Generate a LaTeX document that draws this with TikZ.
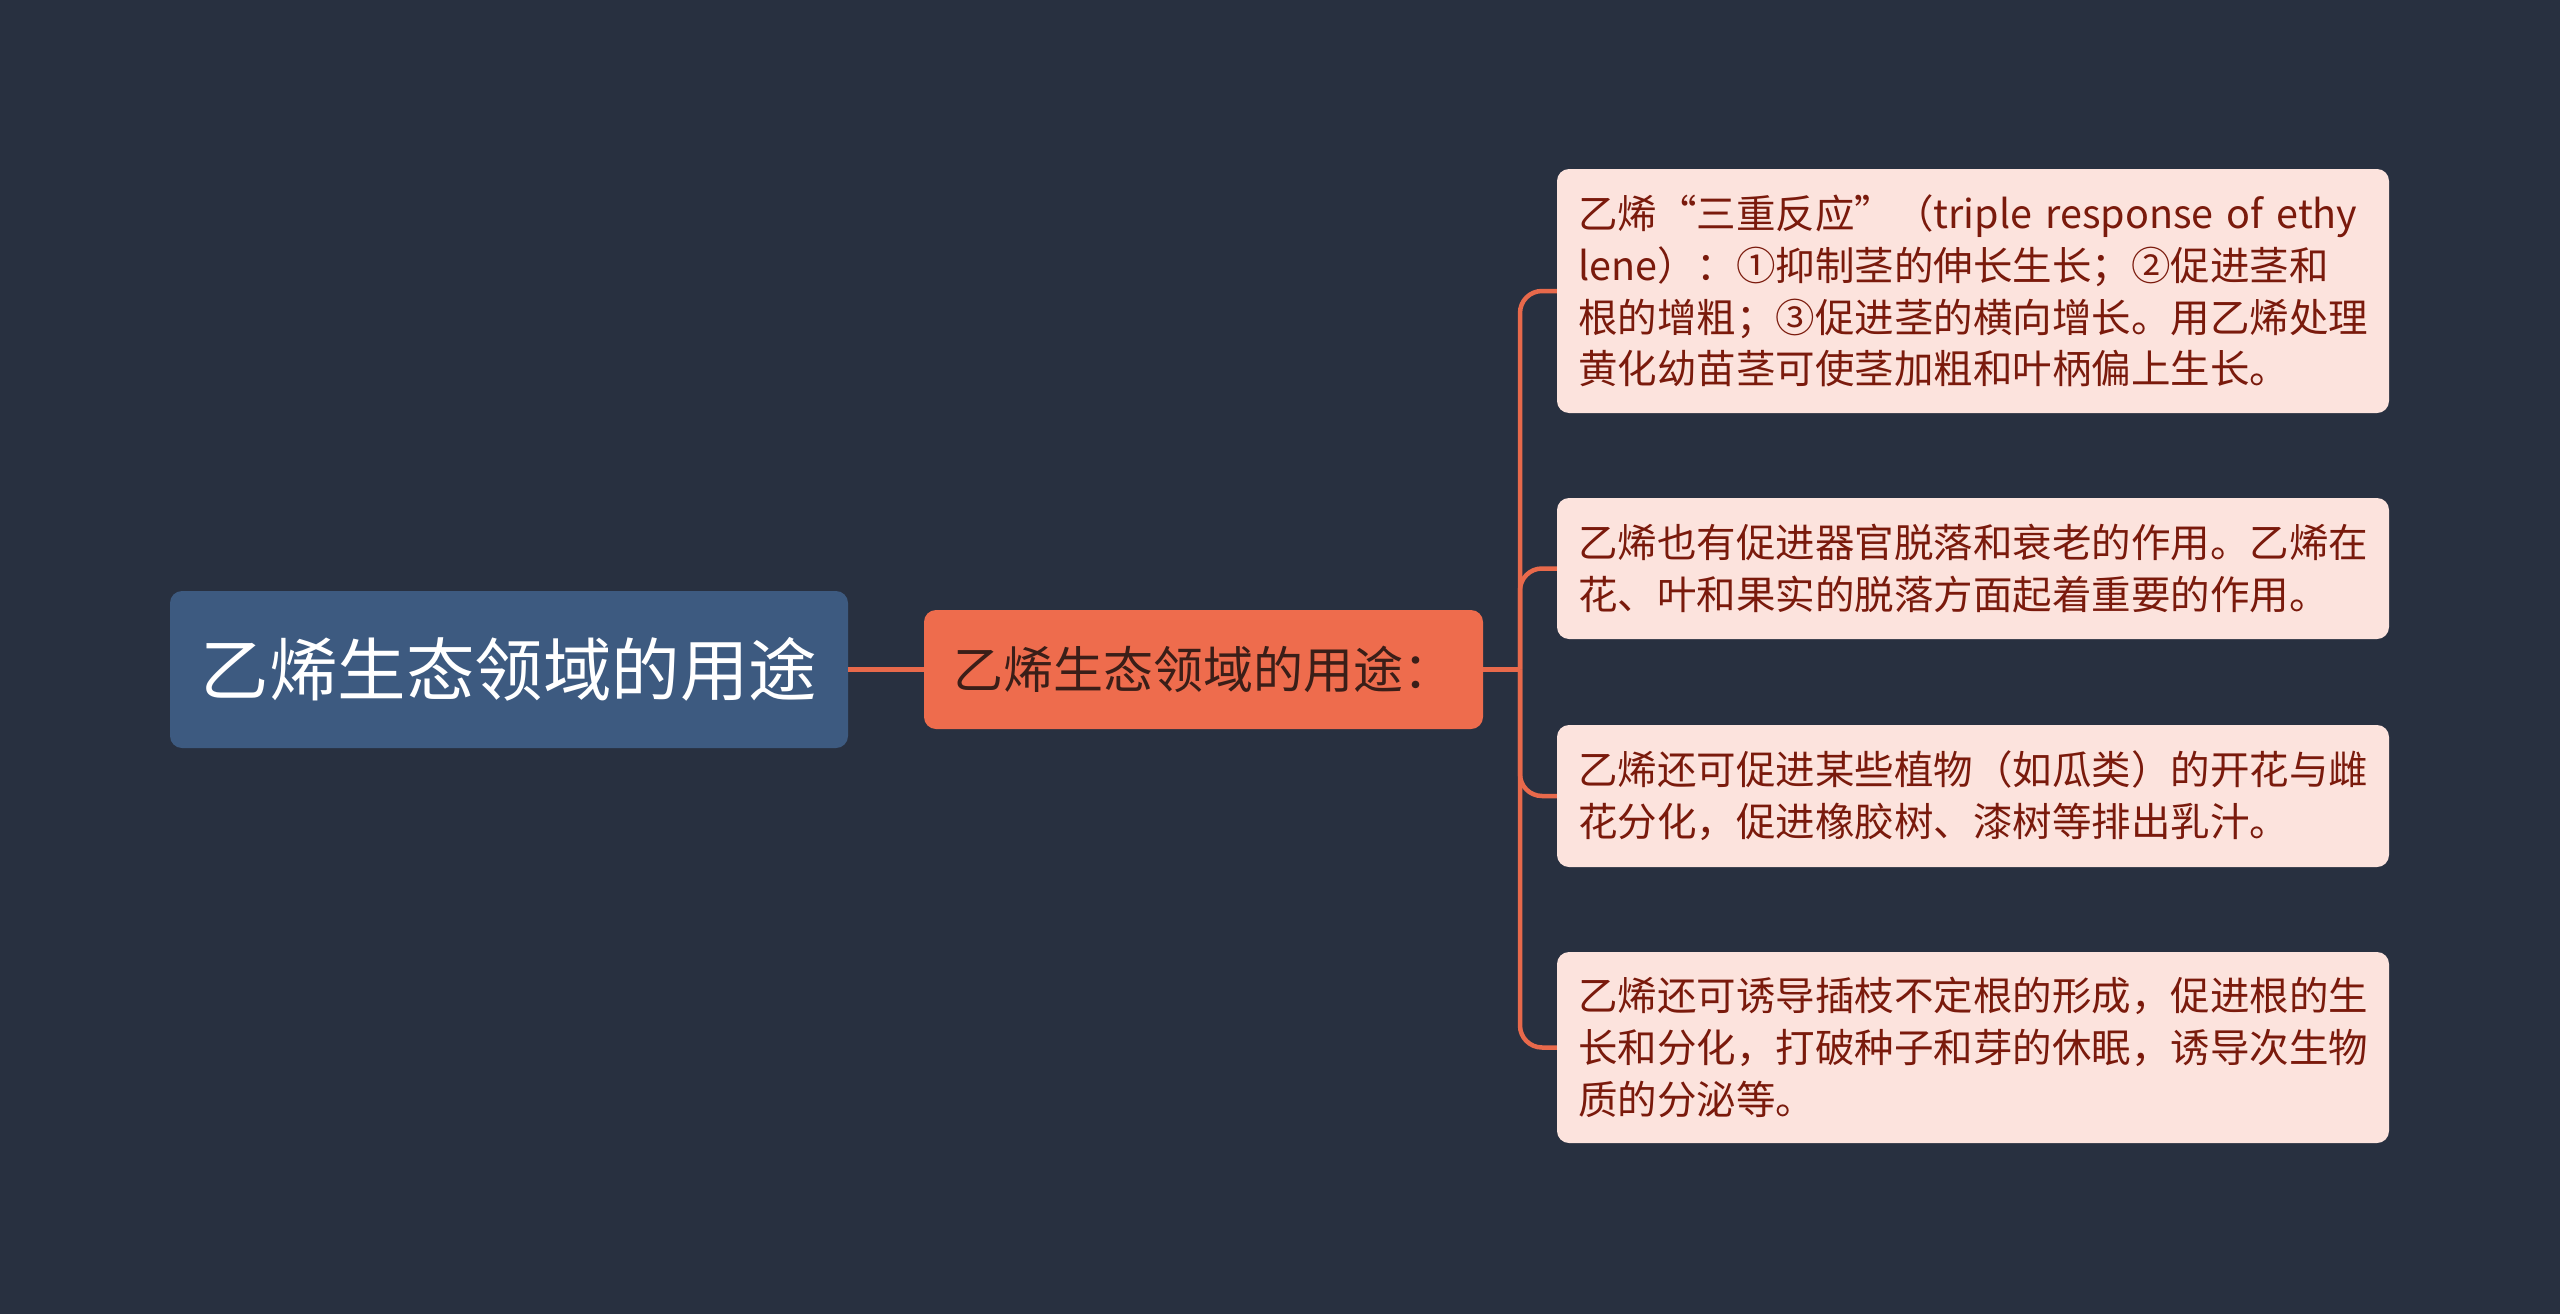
\documentclass[tikz,border=0pt]{standalone}
\usepackage{fontspec}
\setmainfont{Noto Sans CJK SC}
\definecolor{bgc}{HTML}{283040}
\definecolor{rootc}{HTML}{3D5A80}
\definecolor{midc}{HTML}{EE6C4D}
\definecolor{leafc}{HTML}{FCE3DD}
\definecolor{leaftext}{HTML}{7A1A0C}
\definecolor{midtext}{HTML}{3A1E18}
\definecolor{linec}{HTML}{E8694B}
\begin{document}
\begin{tikzpicture}[x=1pt,y=-1pt,
  rootbox/.style={rectangle, rounded corners=12pt, fill=rootc, text=white, inner sep=0pt,
    font=\fontsize{68.5}{80}\selectfont},
  midbox/.style={rectangle, rounded corners=12pt, fill=midc, text=midtext, inner sep=0pt,
    font=\fontsize{50}{60}\selectfont},
  leafbox/.style={rectangle, rounded corners=12pt, fill=leafc, text=leaftext, inner xsep=21pt, inner ysep=0pt,
    minimum width=832pt, text width=790pt, align=left,
    font=\fontsize{39.5}{51.7}\selectfont},
  conn/.style={draw=linec, line width=4.5pt}]
\useasboundingbox[fill=bgc] (0,0) rectangle (2560,1314);
\node[rootbox, minimum width=678pt, minimum height=157pt] (root) at (509,669.5) {乙烯生态领域的用途};
\node[midbox, minimum width=559pt, minimum height=119pt] (mid) at (1203.5,669.5) {乙烯生态领域的用途：};
\node[leafbox, minimum height=244pt] (l1) at (1973,291) {乙烯“三重反应”（triple response of ethy\\lene）：①抑制茎的伸长生长；②促进茎和\\根的增粗；③促进茎的横向增长。用乙烯处理\\黄化幼苗茎可使茎加粗和叶柄偏上生长。};
\node[leafbox, minimum height=141pt] (l2) at (1973,568.5) {乙烯也有促进器官脱落和衰老的作用。乙烯在\\花、叶和果实的脱落方面起着重要的作用。};
\node[leafbox, minimum height=142pt] (l3) at (1973,796) {乙烯还可促进某些植物（如瓜类）的开花与雌\\花分化，促进橡胶树、漆树等排出乳汁。};
\node[leafbox, minimum height=191pt] (l4) at (1973,1047.5) {乙烯还可诱导插枝不定根的形成，促进根的生\\长和分化，打破种子和芽的休眠，诱导次生物\\质的分泌等。};
\coordinate (hub) at (1520,669.5);
\draw[conn] (root.east) -- (mid.west);
\draw[conn] (mid.east) -- (hub);
\draw[conn, rounded corners=22pt] (hub) |- (l1.west);
\draw[conn, rounded corners=22pt] (hub) |- (l2.west);
\draw[conn, rounded corners=22pt] (hub) |- (l3.west);
\draw[conn, rounded corners=22pt] (hub) |- (l4.west);
\end{tikzpicture}
\end{document}
